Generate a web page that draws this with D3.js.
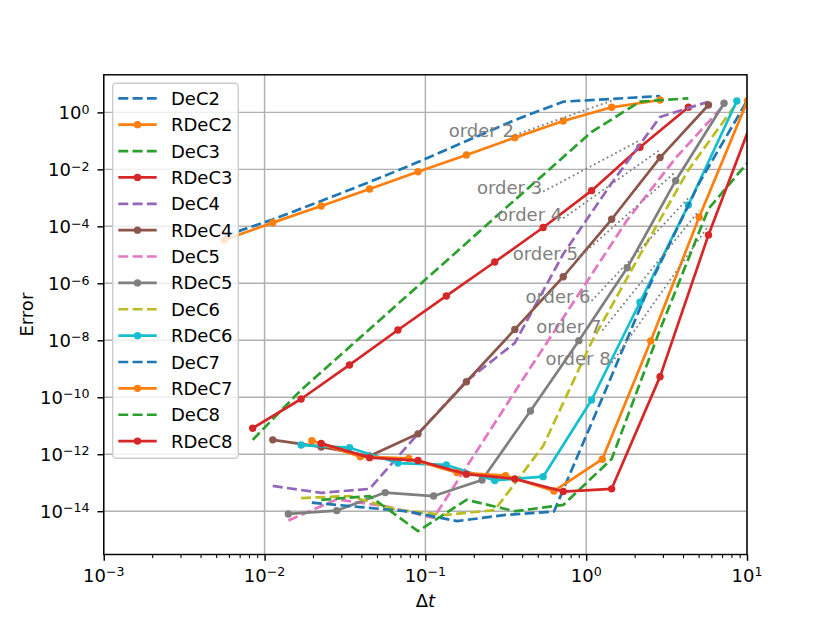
<!DOCTYPE html>
<html><head><meta charset="utf-8">
<script src="https://cdn.jsdelivr.net/npm/d3@7"></script>
<style>body{margin:0;background:#fff} text{font-family:"DejaVu Sans",sans-serif}</style>
</head><body><svg id="c" width="830" height="623"></svg>
<script>
// ---- data ----
const dt2 = [0.005625,0.01125,0.0225,0.045,0.09,0.18,0.36,0.72,1.44,2.88];
const dt3 = [0.0084375,0.016875,0.03375,0.0675,0.135,0.27,0.54,1.08,2.16,4.32];
const dt4 = [0.01125,0.0225,0.045,0.09,0.18,0.36,0.72,1.44,2.88,5.76];
const dt5 = [0.0140625,0.028125,0.05625,0.1125,0.225,0.45,0.9,1.8,3.6,7.2];
const dt6 = [0.016875,0.03375,0.0675,0.135,0.27,0.54,1.08,2.16,4.32,8.64];
const dt7 = [0.0196875,0.039375,0.07875,0.1575,0.315,0.63,1.26,2.52,5.04,10.08];
const dt8 = [0.0225,0.045,0.09,0.18,0.36,0.72,1.44,2.88,5.76,11.52];

const errDeC2  = [4.6e-5,1.74e-4,7.8e-4,3.6e-3,1.8e-2,9.9e-2,0.54,2.38,2.96,3.77];
const errRDeC2 = [3.3e-5,1.35e-4,5.2e-4,2.05e-3,8.3e-3,3.2e-2,0.13,0.5,1.51,2.72];
const errDeC3  = [3.2e-12,1.8e-10,5.8e-9,1.9e-7,6.1e-6,2.0e-4,6.4e-3,0.205,2.38,3.13];
const errRDeC3 = [8.2e-12,8.7e-11,1.36e-9,2.3e-8,3.6e-7,5.6e-6,9.1e-5,1.79e-3,5.96e-2,1.51];
const errDeC4  = [7.7e-14,4.4e-14,6.1e-14,5.2e-12,3.7e-10,8.1e-9,1.07e-5,3.3e-3,0.69,2.38];
const errRDeC4 = [3.2e-12,1.8e-12,8.7e-13,5.2e-12,3.5e-10,2.4e-8,1.7e-6,1.77e-4,2.6e-2,1.82];
const errDeC5  = [4.7e-15,2.6e-14,1.5e-14,5.8e-15,2.5e-12,1.1e-9,4.2e-7,1.67e-4,2.5e-2,1.82];
const errRDeC5 = [8.0e-15,1.05e-14,4.5e-14,3.4e-14,1.25e-13,3.3e-11,9.7e-9,3.5e-6,4.0e-3,2.09];
const errDeC6  = [2.9e-14,3.4e-14,1.1e-14,7.4e-15,1.1e-14,1.95e-12,8.7e-9,9.9e-6,9.5e-3,2.14];
const errRDeC6 = [2.1e-12,1.7e-12,4.9e-13,4.2e-13,1.2e-13,1.63e-13,8.0e-11,2.16e-7,5.6e-4,2.5];
const errDeC7  = [2.0e-14,1.4e-14,9.7e-15,4.5e-15,7.4e-15,9.7e-15,9.5e-11,1.03e-6,3.3e-3,2.72];
const errRDeC7 = [3.0e-12,8.2e-13,7.1e-13,2.26e-13,1.77e-13,5.1e-14,6.7e-13,9.5e-9,2.1e-4,2.6];
const errDeC8  = [2.5e-14,3.4e-14,2.0e-15,2.5e-14,1.0e-14,1.66e-14,6.8e-13,2.4e-8,4.1e-4,4.2e-2];
const errRDeC8 = [2.4e-12,7.6e-13,6.0e-13,2.0e-13,1.36e-13,4.9e-14,6.1e-14,5.3e-10,5.0e-5,1.43];

const seriesNames = ["DeC2","RDeC2","DeC3","RDeC3","DeC4","RDeC4","DeC5","RDeC5","DeC6","RDeC6","DeC7","RDeC7","DeC8","RDeC8"];

const orders = [2,3,4,5,6,7,8];
const orderStartDt  = [0.36,0.54,0.72,0.9,1.08,1.26,1.44];
const orderEndDt    = [1.44,2.16,2.88,3.6,4.32,5.04,5.76];
const orderStartErr = [0.161,1.65e-3,1.92e-4,8.07e-6,2.4e-7,2.21e-8,1.6e-9];

const xTickExps = [-3,-2,-1,0,1];
const yTickExps = [0,-2,-4,-6,-8,-10,-12,-14];

// ---- layout / style ----
const L=103.75, R=747, T=74.8, B=554.5;
const palette = ["#1f77b4","#ff7f0e","#2ca02c","#d62728","#9467bd","#8c564b","#e377c2","#7f7f7f","#bcbd22","#17becf"];
const dts = [dt2,dt2,dt3,dt3,dt4,dt4,dt5,dt5,dt6,dt6,dt7,dt7,dt8,dt8];
const errs = [errDeC2,errRDeC2,errDeC3,errRDeC3,errDeC4,errRDeC4,errDeC5,errRDeC5,errDeC6,errRDeC6,errDeC7,errRDeC7,errDeC8,errRDeC8];
const series = seriesNames.map((n,i)=>({
  name:n, color:palette[i%10], dashed:!n.startsWith("R"),
  pts: dts[i].map((d,j)=>({dt:d, err:errs[i][j]}))
}));

const svg = d3.select("#c");
const x = d3.scaleLog().domain([1e-3,1e1]).range([L,R]);
const y = d3.scaleLog().domain([Math.pow(10,-15.52),Math.pow(10,1.32)]).range([B,T]);

svg.append("defs").append("clipPath").attr("id","plotclip")
  .append("rect").attr("x",L).attr("y",T).attr("width",R-L).attr("height",B-T);

// grid
const grid = svg.append("g");
grid.selectAll("line.gx").data(xTickExps).join("line")
  .attr("x1",d=>x(Math.pow(10,d))).attr("x2",d=>x(Math.pow(10,d)))
  .attr("y1",T).attr("y2",B).attr("stroke","#b0b0b0").attr("stroke-width",1.44);
grid.selectAll("line.gy").data(yTickExps).join("line")
  .attr("y1",d=>y(Math.pow(10,d))).attr("y2",d=>y(Math.pow(10,d)))
  .attr("x1",L).attr("x2",R).attr("stroke","#b0b0b0").attr("stroke-width",1.44);

// data lines
const plot = svg.append("g").attr("clip-path","url(#plotclip)");
const line = d3.line().x(d=>x(d.dt)).y(d=>y(d.err));
series.forEach(s=>{
  plot.append("path").datum(s.pts).attr("d",line)
    .attr("fill","none").attr("stroke",s.color).attr("stroke-width",2.7)
    .attr("stroke-linejoin","round")
    .attr("stroke-dasharray",s.dashed?"10,4.3":null);
  if(!s.dashed){
    plot.append("g").selectAll("circle").data(s.pts).join("circle")
      .attr("cx",d=>x(d.dt)).attr("cy",d=>y(d.err)).attr("r",3.7).attr("fill",s.color);
  }
});

// order reference lines
orders.forEach((p,i)=>{
  const e0 = orderStartErr[i];
  const e1 = e0*Math.pow(orderEndDt[i]/orderStartDt[i],p);
  plot.append("line")
    .attr("x1",x(orderStartDt[i])).attr("y1",y(e0))
    .attr("x2",x(orderEndDt[i])).attr("y2",y(e1))
    .attr("stroke","#808080").attr("stroke-width",1.8).attr("stroke-dasharray","1.8,3");
  svg.append("text").attr("x",x(orderStartDt[i])-1).attr("y",y(e0)+2.5)
    .attr("text-anchor","end").attr("font-size",18).attr("fill","#808080")
    .text("order "+p);
});

// frame
svg.append("rect").attr("x",L).attr("y",T).attr("width",R-L).attr("height",B-T)
  .attr("fill","none").attr("stroke","#000").attr("stroke-width",1.44);

// x axis ticks
const xAxis = d3.axisBottom(x).tickValues(xTickExps.map(e=>Math.pow(10,e))).tickSize(6.3).tickSizeOuter(0).tickFormat("");
const gx = svg.append("g").attr("transform",`translate(0,${B})`).call(xAxis);
gx.select(".domain").remove();
gx.selectAll(".tick line").attr("stroke-width",1.44);
const minor = x.ticks().filter(v=>Math.abs(Math.log10(v)-Math.round(Math.log10(v)))>1e-6);
const xMinor = d3.axisBottom(x).tickValues(minor).tickSize(3.6).tickSizeOuter(0).tickFormat("");
const gxm = svg.append("g").attr("transform",`translate(0,${B})`).call(xMinor);
gxm.select(".domain").remove();
gxm.selectAll(".tick line").attr("stroke-width",1.08);

// y axis ticks
const yAxis = d3.axisLeft(y).tickValues(yTickExps.map(e=>Math.pow(10,e))).tickSize(6.3).tickSizeOuter(0).tickFormat("");
const gy = svg.append("g").attr("transform",`translate(${L},0)`).call(yAxis);
gy.select(".domain").remove();
gy.selectAll(".tick line").attr("stroke-width",1.44);

function expLabel(sel, e){
  sel.append("tspan").text("10");
  sel.append("tspan").attr("font-size",12.6).attr("dy",-5.3).text(e<0?"\u2212"+(-e):String(e));
}
xTickExps.forEach(e=>{
  const t = svg.append("text").attr("x",x(Math.pow(10,e))).attr("y",581.7)
    .attr("text-anchor","middle").attr("font-size",18).attr("fill","#000");
  expLabel(t,e);
});
yTickExps.forEach(e=>{
  const t = svg.append("text").attr("x",89.5).attr("y",y(Math.pow(10,e))+6.5)
    .attr("text-anchor","end").attr("font-size",18).attr("fill","#000");
  expLabel(t,e);
});

// axis labels
const xl = svg.append("text").attr("x",(L+R)/2).attr("y",606.5).attr("text-anchor","middle").attr("font-size",18);
xl.append("tspan").text("\u0394");
xl.append("tspan").attr("font-style","italic").text("t");
svg.append("text").attr("transform",`translate(33,${(T+B)/2}) rotate(-90)`)
  .attr("text-anchor","middle").attr("font-size",18).text("Error");

// legend
const lg = svg.append("g");
lg.append("rect").attr("x",112.7).attr("y",83.3).attr("width",125.6).attr("height",375)
  .attr("rx",3.5).attr("fill","#fff").attr("fill-opacity",0.8)
  .attr("stroke","#cccccc").attr("stroke-width",1.4);
series.forEach((s,i)=>{
  const yy = 98.3 + 26.37*i;
  lg.append("line").attr("x1",118.3).attr("x2",156.7).attr("y1",yy).attr("y2",yy)
    .attr("stroke",s.color).attr("stroke-width",2.7)
    .attr("stroke-dasharray",s.dashed?"10,4.3":null);
  if(!s.dashed) lg.append("circle").attr("cx",137.5).attr("cy",yy).attr("r",3.7).attr("fill",s.color);
  lg.append("text").attr("x",171).attr("y",yy+6.5).attr("font-size",18).text(s.name);
});
</script></body></html>
